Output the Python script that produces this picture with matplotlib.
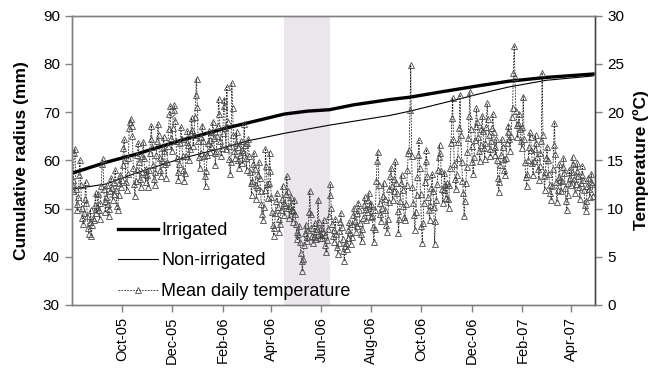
import pandas as pd
import matplotlib
matplotlib.use("Agg")
import matplotlib.pyplot as plt
import matplotlib.dates as mdates

plt.rcParams['font.family'] = ['Liberation Sans', 'DejaVu Sans']

# cumulative radius (mm)
irr_dates = ['2005-08-01', '2005-09-12', '2005-10-19', '2005-12-11', '2006-02-03',
             '2006-04-17', '2006-05-15', '2006-06-11', '2006-07-10', '2006-08-23',
             '2006-09-17', '2006-10-25', '2006-12-11', '2007-01-15', '2007-03-02',
             '2007-04-28']
irr_mm = [57.3, 59.6, 61.3, 64.1, 66.6, 69.6, 70.2, 70.5, 71.5, 72.6, 73.1, 74.2,
          75.5, 76.4, 77.2, 77.9]

non_dates = ['2005-08-01', '2005-09-12', '2005-10-19', '2005-12-11', '2006-01-28',
             '2006-03-05', '2006-04-17', '2006-06-11', '2006-08-23', '2006-09-17',
             '2006-10-25', '2006-12-11', '2007-01-15', '2007-03-02', '2007-04-28']
non_mm = [54.0, 55.1, 57.4, 60.3, 62.4, 64.1, 65.6, 67.3, 69.3, 70.2, 71.8, 73.8,
          75.2, 76.6, 77.5]

# mean daily temperature (C), one list per month
temp_by_month = {
    '2005-08': [12.5, 11.8, 13.0, 15.8, 16.2, 12.0, 10.5, 9.8, 11.2, 13.5, 15.0, 12.4, 10.1, 9.0, 8.4, 9.5,
                11.0, 12.8, 10.6, 9.2, 8.0, 7.4, 8.6, 9.9, 7.2, 8.3, 9.0, 8.8, 10.4, 11.6, 9.5],
    '2005-09': [10.2, 11.5, 9.8, 8.9, 10.6, 12.3, 14.6, 15.1, 12.0, 10.8, 9.6, 11.2, 12.4, 10.5, 9.2,
                10.0, 11.8, 13.2, 12.1, 10.9, 11.5, 12.8, 14.0, 11.9, 10.3, 9.8, 11.4, 12.6, 13.5, 12.2],
    '2005-10': [13.0, 14.5, 16.3, 17.2, 15.0, 12.8, 11.9, 13.6, 15.2, 18.4, 19.0, 19.3, 18.6, 17.5, 14.2,
                12.5, 11.3, 12.9, 14.0, 15.6, 16.8, 14.8, 13.1, 12.2, 13.8, 15.4, 16.9, 15.2, 13.6, 12.8, 14.1],
    '2005-11': [13.5, 12.2, 14.0, 15.8, 17.2, 18.6, 16.4, 14.5, 13.1, 12.4, 13.8, 15.6, 17.0, 18.8, 17.6,
                15.2, 14.0, 13.4, 15.0, 16.3, 17.4, 16.0, 14.6, 13.2, 14.8, 16.5, 18.2, 19.8, 20.6, 17.3],
    '2005-12': [16.0, 18.4, 20.2, 20.7, 19.1, 17.0, 15.2, 13.8, 13.0, 14.6, 16.8, 18.5, 17.2, 15.4, 14.0,
                12.9, 13.7, 15.5, 16.9, 18.0, 16.6, 15.0, 16.2, 17.8, 19.4, 18.1, 16.5, 17.6, 19.5, 21.8, 23.4],
    '2006-01': [20.5, 17.0, 15.3, 14.2, 15.8, 17.4, 18.6, 17.0, 15.5, 13.4, 12.3, 13.9, 15.6, 16.8, 18.0,
                17.1, 15.9, 16.5, 17.9, 19.0, 17.3, 15.8, 14.5, 16.0, 17.5, 18.6, 21.4, 19.8, 17.0, 15.4, 16.3],
    '2006-02': [17.8, 20.6, 21.3, 18.4, 16.2, 22.6, 19.0, 16.5, 15.1, 13.6, 14.8, 23.0, 20.4, 17.6, 16.0,
                15.2, 16.8, 17.9, 16.4, 15.0, 14.2, 15.6, 17.0, 16.1, 14.7, 15.9, 18.8, 16.6],
    '2006-03': [15.2, 14.0, 16.8, 17.2, 15.5, 13.8, 12.6, 11.4, 12.9, 14.6, 15.8, 14.1, 12.4, 11.0, 12.2,
                13.5, 14.8, 13.2, 11.8, 10.5, 9.4, 8.8, 10.2, 11.9, 16.2, 14.4, 12.5, 11.1, 12.6, 15.8, 13.9],
    '2006-04': [11.2, 9.6, 8.3, 7.2, 8.0, 9.5, 10.8, 11.6, 10.2, 8.9, 7.6, 8.4, 9.9, 11.0, 12.3,
                10.6, 9.3, 10.4, 11.5, 13.4, 11.8, 10.1, 9.0, 10.3, 11.2, 9.8, 8.6, 9.7, 10.9, 9.4],
    '2006-05': [8.4, 7.6, 6.8, 7.4, 8.2, 6.5, 5.4, 4.6, 3.5, 4.8, 6.2, 7.5, 8.3, 7.0, 6.6,
                7.8, 9.6, 11.8, 9.4, 8.0, 7.2, 6.4, 7.1, 8.5, 7.7, 6.8, 7.9, 10.9, 8.6, 7.3, 6.9],
    '2006-06': [8.0, 6.9, 7.6, 8.8, 7.3, 6.2, 5.5, 6.7, 7.9, 9.2, 11.4, 12.5, 10.1, 8.4, 7.2,
                6.5, 7.8, 8.9, 7.4, 6.0, 5.3, 6.4, 7.7, 8.6, 9.5, 8.1, 6.8, 5.6, 4.6, 6.1],
    '2006-07': [6.4, 5.8, 6.9, 7.8, 8.6, 7.5, 6.3, 7.1, 8.4, 9.3, 10.1, 8.7, 7.6, 8.2, 9.5,
                10.6, 9.8, 8.5, 7.4, 6.6, 7.9, 9.0, 10.4, 11.2, 10.0, 8.8, 9.6, 10.9, 11.6, 10.3, 9.1],
    '2006-08': [10.5, 9.2, 8.1, 6.5, 7.9, 9.8, 12.9, 14.9, 15.9, 12.4, 10.6, 9.4, 8.7, 10.1, 11.3,
                12.6, 11.0, 9.8, 8.3, 7.6, 8.9, 10.7, 12.0, 13.4, 14.2, 12.3, 10.9, 11.8, 13.1, 14.9, 12.6],
    '2006-09': [11.6, 9.7, 7.5, 8.9, 10.8, 12.6, 13.5, 11.9, 10.3, 9.1, 8.8, 10.5, 12.4, 14.0, 15.8,
                16.1, 20.2, 24.9, 15.4, 12.2, 10.6, 9.3, 7.8, 9.6, 11.4, 13.3, 15.6, 17.1, 14.2, 11.5],
    '2006-10': [8.2, 6.4, 8.5, 10.6, 12.8, 14.9, 16.1, 13.4, 11.2, 9.9, 8.8, 10.4, 12.1, 13.6, 11.8,
                10.2, 6.3, 8.7, 10.9, 12.5, 14.0, 15.3, 16.6, 15.8, 13.9, 12.0, 10.6, 11.9, 13.7, 12.4, 11.1],
    '2006-11': [12.6, 11.0, 10.1, 12.4, 14.2, 16.8, 19.4, 21.5, 17.2, 14.6, 13.1, 12.0, 13.5, 15.2, 16.9,
                18.4, 21.8, 17.6, 14.8, 12.9, 11.6, 9.2, 10.8, 12.7, 14.3, 15.9, 17.3, 19.6, 22.1, 18.2],
    '2006-12': [16.5, 14.8, 13.6, 15.3, 17.1, 18.6, 20.4, 19.0, 17.4, 16.0, 14.9, 16.6, 18.2, 19.6, 18.0,
                16.3, 15.1, 16.8, 18.5, 20.9, 19.3, 17.6, 16.2, 15.4, 17.0, 18.4, 19.8, 17.9, 16.4, 15.6, 17.2],
    '2007-01': [15.0, 13.2, 11.7, 12.8, 14.5, 15.6, 17.2, 16.4, 15.1, 14.0, 13.5, 15.2, 16.8, 17.9, 18.6,
                17.2, 16.0, 17.5, 19.5, 20.4, 24.1, 26.9, 23.6, 20.1, 18.7, 17.4, 18.9, 19.8, 18.2, 17.0, 16.3],
    '2007-02': [18.5, 21.6, 17.2, 14.8, 13.3, 12.3, 13.6, 15.0, 16.4, 17.9, 17.4, 16.1, 14.7, 13.5, 14.9,
                16.2, 17.6, 16.8, 15.3, 14.1, 13.0, 14.4, 15.8, 17.0, 24.1, 17.6, 13.4, 11.9],
    '2007-03': [13.8, 15.2, 16.4, 15.0, 13.6, 12.4, 11.6, 10.9, 12.3, 14.1, 16.6, 18.9, 15.7, 12.8, 10.7,
                11.9, 13.3, 14.6, 13.0, 11.8, 12.9, 14.3, 15.2, 13.7, 12.1, 10.8, 9.8, 11.4, 12.7, 14.0, 13.2],
    '2007-04': [12.4, 13.8, 15.3, 14.6, 13.1, 11.6, 12.5, 13.9, 14.7, 13.4, 12.2, 11.0, 12.6, 13.5, 14.4,
                13.0, 11.9, 10.4, 9.7, 10.8, 12.3, 13.2, 12.0, 11.2, 12.8, 13.6, 12.5, 11.3],
}

shade_start, shade_end = '2006-04-16', '2006-06-12'
tick_dates = pd.date_range('2005-10-01', '2007-04-01', freq='2MS')

# build daily series
t_dates, t_vals = [], []
for m, vals in temp_by_month.items():
    t_dates += list(pd.date_range(m + '-01', periods=len(vals), freq='D'))
    t_vals += vals

fig = plt.figure(figsize=(6.58, 3.79), dpi=100)
ax = fig.add_axes([0.109, 0.1953, 0.796, 0.7633])
ax2 = ax.twinx()

ax.axvspan(pd.Timestamp(shade_start), pd.Timestamp(shade_end), color='#ebe6ec', lw=0, zorder=0)
l1, = ax.plot(pd.to_datetime(irr_dates), irr_mm, color='black', lw=2.4, label='Irrigated', zorder=3)
l2, = ax.plot(pd.to_datetime(non_dates), non_mm, color='black', lw=0.8, label='Non-irrigated', zorder=3)
l3, = ax2.plot(t_dates, t_vals, color='#202020', lw=0.6, dashes=(2, 1.5), marker='^', ms=4.5,
               mfc='none', mec='#4a4a4a', mew=0.6, label='Mean daily temperature')

ax.set_ylim(30, 90)
ax2.set_ylim(0, 30)
ax.set_yticks(range(30, 91, 10))
ax2.set_yticks(range(0, 31, 5))
ax.set_xlim(pd.Timestamp('2005-08-01'), pd.Timestamp('2007-05-01'))
ax.set_xticks(tick_dates)
ax.xaxis.set_major_formatter(mdates.DateFormatter('%b-%y'))
for lab in ax.get_xticklabels():
    lab.set_rotation(90)

ax.set_ylabel('Cumulative radius (mm)', fontsize=12.5, fontweight='bold', labelpad=10)
ax2.set_ylabel('Temperature (ºC)', fontsize=12.5, fontweight='bold', labelpad=6)

for a in (ax, ax2):
    for s in a.spines.values():
        s.set_color('#808080')
        s.set_linewidth(1)
    a.tick_params(direction='out', length=5, width=1, color='#808080', labelsize=11)
ax.tick_params(axis='x', labelsize=10.5)
ax2.spines['right'].set_color('#404040')

ax2.legend(handles=[l1, l2, l3], loc='upper left', bbox_to_anchor=(0.088, 0.287),
           frameon=False, fontsize=13, handlelength=2.2, labelspacing=0.75,
           numpoints=1, borderpad=0, borderaxespad=0, handletextpad=0.2)

fig.savefig('out.png', dpi=100)
